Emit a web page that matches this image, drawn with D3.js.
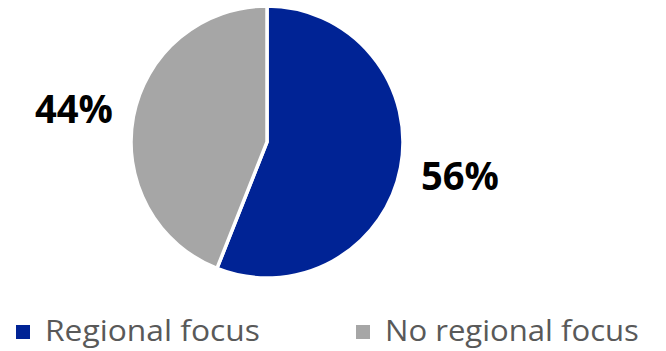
<!DOCTYPE html>
<html>
<head>
<meta charset="utf-8">
<script src="https://cdn.jsdelivr.net/npm/d3@7"></script>
<style>
  html, body { margin: 0; padding: 0; background: #fff; }
  svg { display: block; }
</style>
</head>
<body>
<svg id="chart" width="666" height="351"></svg>
<script>
// Share of respondents by regional focus
const categories = ["Regional focus", "No regional focus"];
const values = [56, 44];
const valueLabels = ["56%", "44%"];
const colors = ["#002395", "#A6A6A6"];

const svg = d3.select("#chart");
const cx = 267, cy = 142, radius = 136;

const pie = d3.pie().sort(null).value(d => d)(values);
const arc = d3.arc().innerRadius(0).outerRadius(radius);

const g = svg.append("g").attr("transform", `translate(${cx},${cy})`);

g.selectAll("path.slice")
  .data(pie)
  .join("path")
  .attr("class", "slice")
  .attr("d", arc)
  .attr("fill", (d, i) => colors[i])
  .attr("stroke", "#fff")
  .attr("stroke-width", 3.5)
  .attr("stroke-linejoin", "miter");

// Fit a left-anchored text element horizontally to a target width
function fitWidth(sel, x, y, w) {
  sel.each(function () {
    const len = this.getComputedTextLength();
    const k = w / len;
    d3.select(this)
      .attr("x", 0).attr("y", 0)
      .attr("transform", `translate(${x},${y}) scale(${k},1)`);
  });
}

// Percentage labels placed outside each slice
const labelPos = [
  { x: 421, y: 190, w: 78 },
  { x: 35, y: 123, w: 78 }
];
svg.selectAll("text.value")
  .data(pie)
  .join("text")
  .attr("class", "value")
  .attr("font-family", "'Open Sans', sans-serif")
  .attr("font-weight", "bold")
  .attr("font-size", 39)
  .attr("fill", "#000")
  .text((d, i) => valueLabels[i])
  .each(function (d, i) {
    fitWidth(d3.select(this), labelPos[i].x, labelPos[i].y, labelPos[i].w);
  });

// Legend
const legendItems = [
  { sx: 16, tx: 45, w: 215 },
  { sx: 356, tx: 385, w: 254 }
];
const legend = svg.append("g");
legend.selectAll("rect")
  .data(categories)
  .join("rect")
  .attr("x", (d, i) => legendItems[i].sx)
  .attr("y", 325)
  .attr("width", 14)
  .attr("height", 14)
  .attr("fill", (d, i) => colors[i]);
legend.selectAll("text")
  .data(categories)
  .join("text")
  .attr("font-family", "'Open Sans', sans-serif")
  .attr("font-size", 29.5)
  .attr("fill", "#595959")
  .text(d => d)
  .each(function (d, i) {
    fitWidth(d3.select(this), legendItems[i].tx, 341, legendItems[i].w);
  });
</script>
</body>
</html>
